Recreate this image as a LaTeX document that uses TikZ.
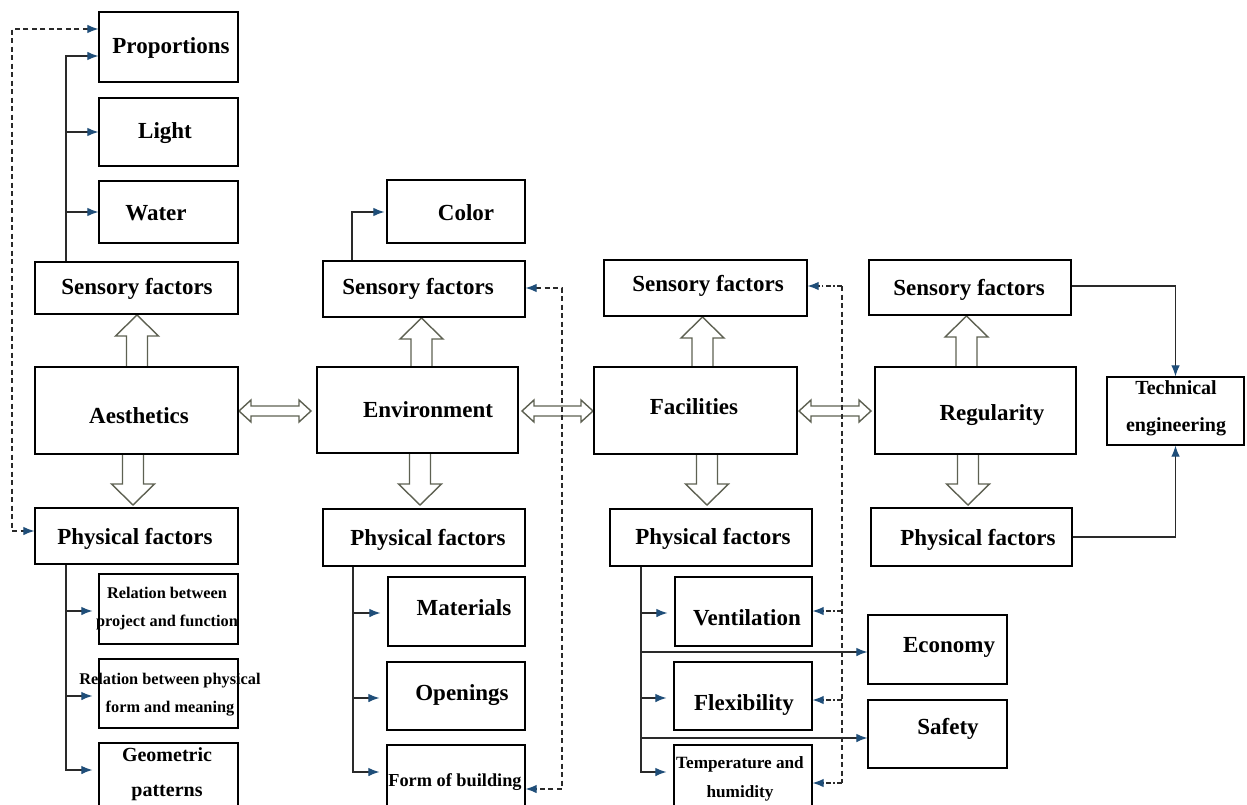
\documentclass[tikz,border=0pt]{standalone}
\usepackage{fontspec}
\setmainfont{Liberation Serif}
\usetikzlibrary{arrows.meta}
\definecolor{tipblue}{HTML}{1F4E79}
\definecolor{linec}{HTML}{2A2A2A}
\definecolor{blkc}{HTML}{5E6152}
\tikzset{
  box/.style={draw=black, line width=1.2pt, inner sep=0pt},
  lbl/.style={font=\bfseries\fontsize{23}{28}\selectfont, inner sep=0pt, text height=15.5pt, text depth=0pt},
  flbl/.style={font=\bfseries\fontsize{18.3}{22}\selectfont, inner sep=0pt, text height=12.5pt, text depth=0pt},
  slbl/.style={font=\bfseries\fontsize{16.3}{28.5}\selectfont, inner sep=0pt, align=center},
  glbl/.style={font=\bfseries\fontsize{20}{35}\selectfont, inner sep=0pt, align=center},
  tlbl/.style={font=\bfseries\fontsize{17.2}{29}\selectfont, inner sep=0pt, align=center},
  techlbl/.style={font=\bfseries\fontsize{20}{37}\selectfont, inner sep=0pt, align=center},
  tipA/.tip={Latex[length=11pt,width=8.5pt,color=tipblue]},
  conn/.style={draw=linec, line width=1.1pt, -tipA},
  dconn/.style={draw=linec, line width=1.1pt, dash pattern=on 5pt off 3.5pt, tipA-tipA},
  dline/.style={draw=linec, line width=1.1pt, dash pattern=on 5pt off 3.5pt},
  ddconn/.style={draw=linec, line width=1.1pt, dash pattern=on 5pt off 2.5pt on 1.2pt off 2.5pt, -tipA},
  blk/.style={draw=blkc, line width=1.4pt, fill=white, line join=miter},
}
\newcommand\mkbox[5]{\node[box, minimum width={(#4-#2)*1pt}, minimum height={(#5-#3)*1pt}] (#1) at ({(#2+#4)/2},{(#3+#5)/2}) {};}
% vertical block arrows: center x, base y, tip y
\newcommand\blkUp[3]{\draw[blk] ({#1-10.5},#2) -- ({#1-10.5},{#3+21}) -- ({#1-21.5},{#3+21}) -- (#1,#3) -- ({#1+21.5},{#3+21}) -- ({#1+10.5},{#3+21}) -- ({#1+10.5},#2);}
\newcommand\blkDn[3]{\draw[blk] ({#1-10.5},#2) -- ({#1-10.5},{#3-21}) -- ({#1-21.5},{#3-21}) -- (#1,#3) -- ({#1+21.5},{#3-21}) -- ({#1+10.5},{#3-21}) -- ({#1+10.5},#2);}
% horizontal double block arrow: x0, x1, y
\newcommand\blkH[3]{\draw[blk] (#1,#3) -- ({#1+12},{#3-11}) -- ({#1+12},{#3-5}) -- ({#2-12},{#3-5}) -- ({#2-12},{#3-11}) -- (#2,#3) -- ({#2-12},{#3+11}) -- ({#2-12},{#3+5}) -- ({#1+12},{#3+5}) -- ({#1+12},{#3+11}) -- cycle;}
\begin{document}
\begin{tikzpicture}[x=1pt,y=-1pt]
\useasboundingbox (0,0) rectangle (1247,805);
\clip (0,0) rectangle (1247,805);
\fill[white] (0,0) rectangle (1247,805);

% block arrows
\blkUp{137}{367}{315}
\blkDn{133}{454}{505}
\blkUp{421.5}{367}{318}
\blkDn{420}{453}{505}
\blkUp{702.5}{367}{317}
\blkDn{707}{454}{505}
\blkUp{966.5}{367}{316}
\blkDn{968}{454}{505}
\blkH{239}{311}{411}
\blkH{522}{593}{411}
\blkH{799}{871}{411}

% boxes
\mkbox{prop}{99}{12}{238}{82}
\mkbox{light}{99}{98}{238}{166}
\mkbox{water}{99}{181}{238}{243}
\mkbox{sensA}{35}{262}{238}{314}
\mkbox{aest}{35}{367}{238}{454}
\mkbox{physA}{35}{508}{238}{564}
\mkbox{relA}{99}{574}{238}{644}
\mkbox{relB}{99}{659}{238}{728}
\mkbox{geo}{99}{743}{238}{830}
\mkbox{color}{387}{180}{525}{243}
\mkbox{sensE}{323}{261}{525}{317}
\mkbox{env}{317}{367}{518}{453}
\mkbox{physE}{323}{509}{525}{566}
\mkbox{mat}{388}{577}{525}{646}
\mkbox{open}{387}{662}{525}{730}
\mkbox{form}{387}{745}{525}{830}
\mkbox{sensF}{604}{260}{807}{316}
\mkbox{fac}{594}{367}{797}{454}
\mkbox{physF}{610}{509}{812}{566}
\mkbox{vent}{675}{577}{812}{646}
\mkbox{flex}{674}{662}{812}{730}
\mkbox{temp}{674}{745}{812}{830}
\mkbox{econ}{868}{615}{1007}{684}
\mkbox{safe}{868}{700}{1007}{768}
\mkbox{sensR}{869}{260}{1071}{315}
\mkbox{reg}{875}{367}{1076}{454}
\mkbox{physR}{871}{508}{1072}{566}
\mkbox{tech}{1107}{377}{1244}{445}

% labels
\node[lbl] (t-prop) at (171,46) {Proportions};
\node[lbl] (t-light) at (165,131) {Light};
\node[lbl] (t-water) at (156,213) {Water};
\node[lbl] (t-sensA) at (137,287) {Sensory factors};
\node[lbl] (t-aest) at (139,416) {Aesthetics};
\node[lbl] (t-physA) at (135,537) {Physical factors};
\node[slbl] (t-relA) at (167,608.5) {Relation between\\project and function};
\node[slbl] (t-relB) at (170,694.5) {Relation between physical\\form and meaning};
\node[glbl] (t-geo) at (167,774.5) {Geometric\\patterns};
\node[lbl] (t-sensE) at (418,287) {Sensory factors};
\node[lbl] (t-color) at (466,213) {Color};
\node[lbl] (t-env) at (428,410) {Environment};
\node[lbl] (t-physE) at (428,538) {Physical factors};
\node[lbl] (t-mat) at (464,608) {Materials};
\node[lbl] (t-open) at (462,693) {Openings};
\node[flbl] (t-form) at (455,780) {Form of building};
\node[lbl] (t-sensF) at (708,284) {Sensory factors};
\node[lbl] (t-fac) at (694,407) {Facilities};
\node[lbl] (t-physF) at (713,537) {Physical factors};
\node[lbl] (t-vent) at (747,618) {Ventilation};
\node[lbl] (t-flex) at (744,703) {Flexibility};
\node[tlbl] (t-temp) at (740,778.5) {Temperature and\\humidity};
\node[lbl] (t-econ) at (949,645) {Economy};
\node[lbl] (t-safe) at (948,727) {Safety};
\node[lbl] (t-sensR) at (969,288) {Sensory factors};
\node[lbl] (t-reg) at (992,413) {Regularity};
\node[lbl] (t-physR) at (978,538) {Physical factors};
\node[techlbl] (t-tech) at (1176,408.5) {Technical\\engineering};

% Aesthetics branch connectors
\draw[conn] (sensA.north -| 66,0) |- (prop.west |- 0,56);
\coordinate (jA1) at (66,132);
\coordinate (jA2) at (66,212);
\draw[conn] (jA1) -- (light.west |- jA1);
\draw[conn] (jA2) -- (water.west |- jA2);
\draw[conn, shorten >=6pt] (physA.south -| 66,0) |- (geo.west |- 0,770);
\coordinate (jA3) at (66,611);
\coordinate (jA4) at (66,696);
\draw[conn, shorten >=6pt] (jA3) -- (relA.west |- jA3);
\draw[conn, shorten >=6pt] (jA4) -- (relB.west |- jA4);
\draw[dconn] (prop.west |- 0,29) -| (12,531) -- (physA.west |- 0,531);

% Environment connectors
\draw[conn, shorten >=2pt] (sensE.north -| 352,0) |- (color.west |- 0,212);
\draw[conn, shorten >=7pt] (physE.south -| 353,0) |- (form.west |- 0,772);
\coordinate (jE1) at (353,613);
\coordinate (jE2) at (353,698);
\draw[conn, shorten >=7pt] (jE1) -- (mat.west |- jE1);
\draw[conn, shorten >=7pt] (jE2) -- (open.west |- jE2);
\draw[dconn] (sensE.east |- 0,288) -| (562,789) -- (form.east |- 0,789);

% Facilities connectors
\draw[conn, shorten >=7pt] (physF.south -| 641,0) |- (temp.west |- 0,772);
\coordinate (jF1) at (641,613);
\coordinate (jF2) at (641,652);
\coordinate (jF3) at (641,698);
\coordinate (jF4) at (641,738);
\draw[conn, shorten >=7pt] (jF1) -- (vent.west |- jF1);
\draw[conn] (jF2) -- (econ.west |- jF2);
\draw[conn, shorten >=7pt] (jF3) -- (flex.west |- jF3);
\draw[conn] (jF4) -- (safe.west |- jF4);
\coordinate (dF0) at (842,286);
\coordinate (dF1) at (842,611);
\coordinate (dF2) at (842,700);
\coordinate (dF3) at (842,783);
\draw[dline] (dF0) -- (dF3);
\draw[ddconn] (dF0) -- (sensF.east |- dF0);
\draw[ddconn] (dF1) -- (vent.east |- dF1);
\draw[ddconn] (dF2) -- (flex.east |- dF2);
\draw[ddconn] (dF3) -- (temp.east |- dF3);

% Regularity connectors
\draw[conn] (sensR.east |- 0,286) -| (tech.north);
\draw[conn] (physR.east |- 0,537) -| (tech.south);
\end{tikzpicture}
\end{document}
